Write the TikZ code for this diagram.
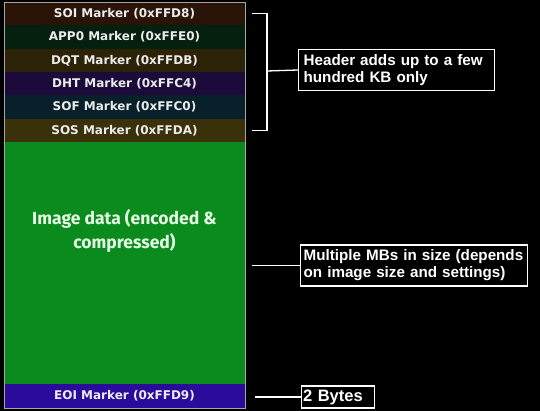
\documentclass[tikz,border=0pt]{standalone}
\usepackage{fontspec}
\setmainfont{Liberation Sans}
\newfontfamily\markerfont{DejaVu Sans Bold}
\newfontfamily\datafont{Fira Sans}
\usetikzlibrary{positioning}

\definecolor{soicol}{HTML}{2A1408}
\definecolor{appcol}{HTML}{06200F}
\definecolor{dqtcol}{HTML}{2C2208}
\definecolor{dhtcol}{HTML}{1B0A3A}
\definecolor{sofcol}{HTML}{082029}
\definecolor{soscol}{HTML}{3A3009}
\definecolor{imgcol}{HTML}{0B8A1E}
\definecolor{eoicol}{HTML}{2B0B9C}
\definecolor{txtcol}{HTML}{ECECEC}

\begin{document}
\begin{tikzpicture}[
  x=1pt, y=-1pt,
  seg/.style={rectangle, fill=#1, text=txtcol, minimum width=241pt,
              minimum height=23.33pt, inner sep=0pt, outer sep=0pt,
              font=\markerfont\fontsize{12}{13}\selectfont},
  note/.style={rectangle, draw=white, fill=black, text=white, align=left,
               line width=1.3pt, inner sep=5pt, anchor=west,
               font=\bfseries\fontsize{15.2}{17}\selectfont},
  link/.style={draw=white, line width=1.3pt},
  node distance=0pt
]
\fill[black] (0,0) rectangle (540,411);
\useasboundingbox (0,0) rectangle (540,411);

% header markers
\node[seg=soicol, anchor=north west] (soi) at (4,2) {SOI Marker (0xFFD8)};
\node[seg=appcol, below=of soi] (app) {APP0 Marker (0xFFE0)};
\node[seg=dqtcol, below=of app] (dqt) {DQT Marker (0xFFDB)};
\node[seg=dhtcol, below=of dqt] (dht) {DHT Marker (0xFFC4)};
\node[seg=sofcol, below=of dht] (sof) {SOF Marker (0xFFC0)};
\node[seg=soscol, below=of sof] (sos) {SOS Marker (0xFFDA)};
% payload
\node[seg=imgcol, below=of sos, minimum height=242pt, align=center,
      font=\datafont\bfseries\fontsize{17.5}{24}\selectfont,
      text=green!10!white] (img) {Image data (encoded \&\\compressed)\\[44pt]};
\node[seg=eoicol, below=of img, minimum height=24pt] (eoi) {EOI Marker (0xFFD9)};
\draw[gray!70, line width=0.6pt] (soi.north west) rectangle (eoi.south east);

% notes
\node[note, text width=186pt] (hdr) at (298,70)
  {Header adds up to a few\\hundred KB only};
\node[note, inner xsep=3pt, text width=221pt] (mb) at (300,265.5)
  {Multiple MBs in size (depends\\on image size and settings)};
\node[note, inner sep=1.5pt, minimum height=22pt, text width=70pt,
      font=\bfseries\fontsize{16.5}{17}\selectfont] (eob) at (301,397) {2 Bytes};

\coordinate (brtop) at ([xshift=7pt]soi.east);
\coordinate (brbot) at ([xshift=7pt]sos.east);
\coordinate (brmid) at (267,71);
\draw[link] (brtop) -- ++(15,0) |- (brbot);
\draw[link] (brmid) -- (hdr.west);
\draw[link] ([xshift=7pt]img.east |- mb.west) -- (mb.west);
\draw[link] ([xshift=10pt]eoi.east |- eob.west) -- (eob.west);
\end{tikzpicture}
\end{document}
